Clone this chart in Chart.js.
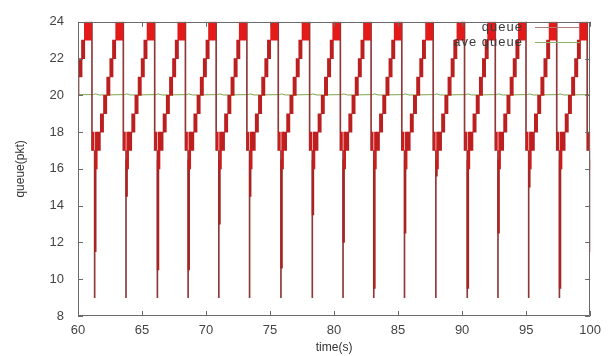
<!DOCTYPE html>
<html>
<head>
<meta charset="utf-8">
<script src="https://cdn.jsdelivr.net/npm/chart.js"></script>
<style>
  html, body { margin: 0; padding: 0; background: #fff; }
  #wrap { width: 608px; height: 356px; }
</style>
</head>
<body>
<div id="wrap"><canvas id="queueChart" width="608" height="356"></canvas></div>
<script>
// time (s) of each queue drop
const dropTimes = [61.3, 63.75, 66.2, 68.6, 71.0, 73.4, 75.85, 78.3, 80.7, 83.1, 85.5, 87.95, 90.4, 92.8, 95.2, 97.6, 99.98];
// bottom of the thick part of each drop (pkt)
const dropMins = [11.5, 14.5, 10.5, 10.5, 13, 14.5, 10.6, 13.5, 12, 9.5, 12.5, 15.6, 9.5, 12.5, 15, 9.5, 11.5];
// bottom of the thin line of each drop (pkt)
const thinMins = [9, 9, 9, 9, 9, 9, 9, 9, 9, 9, 9, 9, 9, 9, 9, 9, 11.5];

// staircase after a drop: level reached and time after the drop (s)
const stairLevels = [17, 18, 19, 20, 21, 22];
const stairOffsets = [0.32, 0.57, 0.82, 1.07, 1.31, 1.52];
// steps already running at t = 60
const leadTimes = [59.95, 60.19, 60.40];
const leadLevels = [20, 21, 22];

// average queue
const aveTimes = [60, 61.2, 61.35, 61.65, 63.65, 63.8, 64.1, 66.1, 66.25, 66.55, 68.5, 68.65, 68.95,
  70.9, 71.05, 71.35, 73.3, 73.45, 73.75, 75.75, 75.9, 76.2, 78.2, 78.35, 78.65, 80.6, 80.75, 81.05,
  83.0, 83.15, 83.45, 85.4, 85.55, 85.85, 87.85, 88.0, 88.3, 90.3, 90.45, 90.75, 92.7, 92.85, 93.15,
  95.1, 95.25, 95.55, 97.5, 97.65, 97.95, 100];
const aveValues = [20.04, 20.04, 20.08, 20.02, 20.04, 20.08, 20.02, 20.04, 20.08, 20.02, 20.04, 20.08, 20.02,
  20.04, 20.08, 20.02, 20.04, 20.08, 20.02, 20.04, 20.08, 20.02, 20.04, 20.08, 20.02, 20.04, 20.08, 20.02,
  20.04, 20.08, 20.02, 20.04, 20.08, 20.02, 20.04, 20.08, 20.02, 20.04, 20.08, 20.02, 20.04, 20.08, 20.02,
  20.04, 20.08, 20.02, 20.04, 20.08, 20.02, 20.04];

const xTicks = [60, 65, 70, 75, 80, 85, 90, 95, 100];
const yTicks = [8, 10, 12, 14, 16, 18, 20, 22, 24];

// queue marks as floating bars [low, high] at a time
var topBlocks = dropTimes.map((td) => ({ x: td - 0.525, y: [23, 24] }));
var stairs = leadTimes.map((t, i) => ({ x: t, y: [leadLevels[i], leadLevels[i] + 1] }));
dropTimes.forEach((td) => {
  stairLevels.forEach((lv, j) => stairs.push({ x: td + stairOffsets[j], y: [lv, lv + 1] }));
});
var uStrokes = [];
dropTimes.forEach((td) => {
  uStrokes.push({ x: td - 0.12, y: [17, 18] });
  uStrokes.push({ x: td + 0.13, y: [16, 18] });
});
var deepDrops = dropTimes.map((td, i) => ({ x: td + 0.05, y: [dropMins[i], 16.5] }));
var thinLines = [];
dropTimes.forEach((td, i) => {
  thinLines.push({ x: td - 0.21, y: [17, 24] });
  thinLines.push({ x: td, y: [thinMins[i], 17] });
});
var ave = aveTimes.map((t, i) => ({ x: t, y: aveValues[i] }));

var FONT = "'Liberation Sans', Arial, sans-serif";

function queueBars(label, data, color, width, key) {
  return {
    type: "bar",
    label: label,
    keyColor: key,
    data: data,
    backgroundColor: color,
    borderWidth: 0,
    barThickness: width,
    grouped: false
  };
}

// gnuplot style frame, inner ticks and key
var frameAndKey = {
  id: "frameAndKey",
  afterDraw: function (chart) {
    var ctx = chart.ctx;
    var a = chart.chartArea;
    var sx = chart.scales.x;
    var sy = chart.scales.y;
    ctx.save();
    ctx.strokeStyle = "#6a6a6a";
    ctx.lineWidth = 1;
    ctx.beginPath();
    ctx.rect(Math.round(a.left) + 0.5, Math.round(a.top) + 0.5,
      Math.round(a.right - a.left) - 1, Math.round(a.bottom - a.top) - 1);
    xTicks.forEach((v) => {
      var px = Math.round(sx.getPixelForValue(v)) + 0.5;
      ctx.moveTo(px, a.bottom); ctx.lineTo(px, a.bottom - 5);
      ctx.moveTo(px, a.top); ctx.lineTo(px, a.top + 5);
    });
    yTicks.forEach((v) => {
      var py = Math.round(sy.getPixelForValue(v)) + 0.5;
      ctx.moveTo(a.left, py); ctx.lineTo(a.left + 5, py);
      ctx.moveTo(a.right, py); ctx.lineTo(a.right - 5, py);
    });
    ctx.stroke();

    // key, text left of the sample line
    var keys = chart.data.datasets.filter((d) => d.keyColor);
    ctx.font = "13px " + FONT;
    ctx.letterSpacing = "1px";
    ctx.textAlign = "right";
    ctx.textBaseline = "middle";
    keys.forEach((d, i) => {
      var y = 27 + i * 15;
      ctx.fillStyle = "#3a3a3a";
      ctx.fillText(d.label, 523, y);
      ctx.strokeStyle = d.keyColor;
      ctx.beginPath();
      ctx.moveTo(535, y + 0.5);
      ctx.lineTo(580, y + 0.5);
      ctx.stroke();
    });
    ctx.restore();
  }
};

var ctx = document.getElementById("queueChart").getContext("2d");
var chart = new Chart(ctx, {
  type: "line",
  data: {
    datasets: [
      queueBars("queue", topBlocks, "#e21a1a", 7.2, "#b07a7a"),
      queueBars("queue steps", stairs, "#bb1f1f", 3.3),
      queueBars("queue dip", uStrokes, "#cc1c1c", 1.9),
      queueBars("queue drop", deepDrops, "#a82424", 1.8),
      queueBars("queue thin", thinLines, "#8e3838", 1),
      {
        label: "ave queue",
        keyColor: "#8db368",
        data: ave,
        borderColor: "#7ea44c",
        borderWidth: 1,
        pointRadius: 0,
        tension: 0,
        fill: false
      }
    ]
  },
  options: {
    responsive: false,
    animation: false,
    devicePixelRatio: 1,
    layout: { padding: { top: 18, right: 10, left: 0, bottom: 0 } },
    scales: {
      x: {
        type: "linear",
        min: 60,
        max: 100,
        offset: false,
        afterBuildTicks: function (s) { s.ticks = xTicks.map((v) => ({ value: v })); },
        afterFit: function (s) { s.height = 40; },
        grid: { display: false, drawTicks: false, offset: false },
        border: { display: false },
        ticks: { padding: 7, color: "#444", font: { size: 13, family: FONT }, maxRotation: 0 },
        title: { display: true, text: "time(s)", color: "#333", font: { size: 12, family: FONT }, padding: { top: 0, bottom: 1 } }
      },
      y: {
        type: "linear",
        min: 8,
        max: 24,
        afterBuildTicks: function (s) { s.ticks = yTicks.map((v) => ({ value: v })); },
        afterFit: function (s) { s.width = 78; },
        grid: { display: false, drawTicks: false },
        border: { display: false },
        ticks: { padding: 14, color: "#444", font: { size: 13, family: FONT } },
        title: { display: true, text: "queue(pkt)", color: "#333", font: { size: 12, family: FONT }, padding: { top: 13, bottom: 0 } }
      }
    },
    plugins: {
      legend: { display: false },
      tooltip: { enabled: false }
    }
  },
  plugins: [frameAndKey]
});
</script>
</body>
</html>
